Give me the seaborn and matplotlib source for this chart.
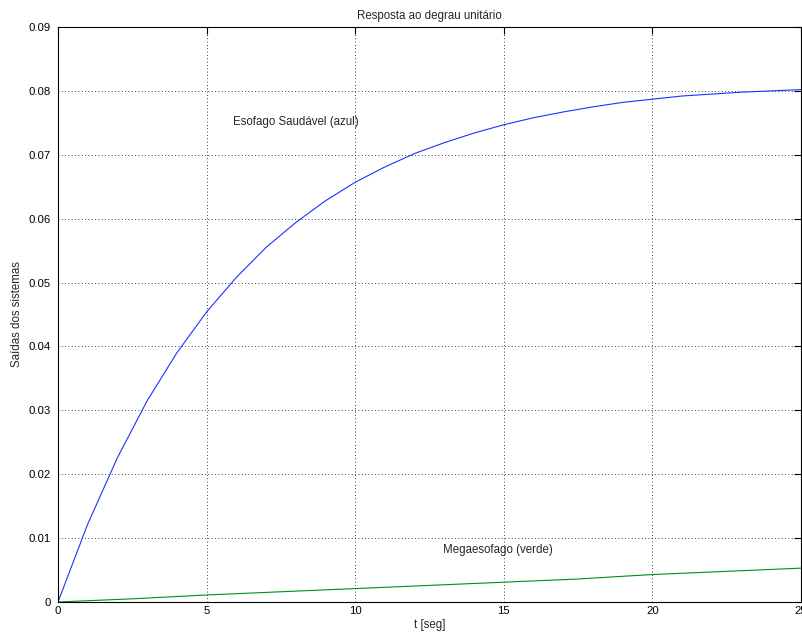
import numpy as np
import pandas as pd
import matplotlib
matplotlib.use("Agg")
import matplotlib.pyplot as plt
import seaborn as sns

# Data
t_blue = list(range(0, 26))
y_blue = [0.0, 0.0122, 0.0226, 0.0315, 0.0390, 0.0454, 0.0508, 0.0555, 0.0594,
          0.0628, 0.0657, 0.0681, 0.0702, 0.0719, 0.0734, 0.0747, 0.0758, 0.0767,
          0.0775, 0.0782, 0.0787, 0.0792, 0.0795, 0.0798, 0.0800, 0.0802]
t_green = [0, 2.5, 5, 7.5, 10, 12.5, 15, 17.5, 20, 22.5, 25]
y_green = [0.0, 0.0005, 0.0011, 0.0016, 0.0021, 0.0026, 0.0031, 0.0036, 0.0043, 0.0048, 0.0053]

x_ticks = [0, 5, 10, 15, 20, 25]
y_ticks = [0, 0.01, 0.02, 0.03, 0.04, 0.05, 0.06, 0.07, 0.08, 0.09]
y_tick_labels = ["0", "0.01", "0.02", "0.03", "0.04", "0.05", "0.06", "0.07", "0.08", "0.09"]

title = "Resposta ao degrau unitário"
xlabel = "t [seg]"
ylabel = "Saídas dos sistemas"
label_blue = "Esofago Saudável (azul)"
label_green = "Megaesofago (verde)"

sns.set_style("white")
plt.rcParams['font.family'] = ['Liberation Sans', 'DejaVu Sans']

fig = plt.figure(figsize=(8.03, 6.37), dpi=100)
ax = fig.add_axes([58/803, 1-602/637, (801-58)/803, (602-27)/637])

df_b = pd.DataFrame({"t": t_blue, "y": y_blue})
df_g = pd.DataFrame({"t": t_green, "y": y_green})
sns.lineplot(data=df_b, x="t", y="y", ax=ax, color=(0.1, 0.2, 1.0), linewidth=0.8)
sns.lineplot(data=df_g, x="t", y="y", ax=ax, color=(0.0, 0.55, 0.1), linewidth=0.8)

ax.set_xlim(0, 25)
ax.set_ylim(0, 0.09)
ax.set_xticks(x_ticks)
ax.set_xticklabels([str(v) for v in x_ticks])
ax.set_yticks(y_ticks)
ax.set_yticklabels(y_tick_labels)
ax.tick_params(direction='in', length=5, width=0.8, top=True, right=True,
               labelsize=8.2, colors='black')
ax.tick_params(axis='y', pad=5)
ax.tick_params(axis='x', pad=3)
ax.grid(True, linestyle=(0, (1, 3)), color='black', linewidth=0.6)
for s in ax.spines.values():
    s.set_color('black')
    s.set_linewidth(0.8)

ax.set_title(title, fontsize=8.3, pad=6)
ax.set_xlabel(xlabel, fontsize=8.3, labelpad=2)
ax.set_ylabel(ylabel, fontsize=8.3)
ax.yaxis.set_label_coords(-35/743, 0.5)

ax.text(5.9, 0.0751, label_blue, fontsize=8.3, va='center', ha='left')
ax.text(12.95, 0.0082, label_green, fontsize=8.3, va='center', ha='left')

fig.savefig("out.png", dpi=100)
